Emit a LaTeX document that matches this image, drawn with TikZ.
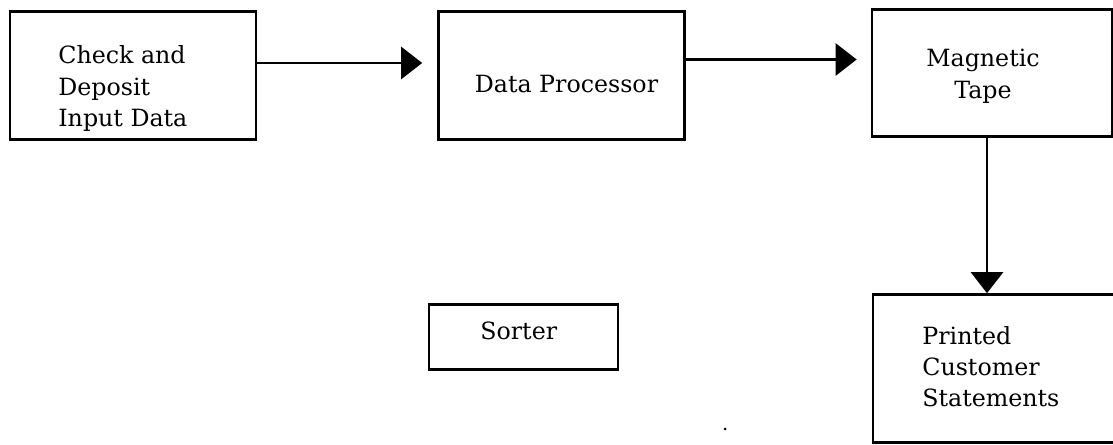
\documentclass[tikz,border=0pt]{standalone}
\usepackage{fontspec}
\setmainfont{DejaVu Serif}
\usetikzlibrary{arrows.meta, positioning}
\tikzstyle{process} = [rectangle, minimum width=4.92cm, minimum height=2.55cm, draw=black, line width=1.5pt]
\tikzstyle{smallprocess} = [rectangle, minimum width=3.78cm, minimum height=1.3cm, draw=black, line width=1.5pt]
\tikzstyle{boxtext} = [inner sep=0pt, font=\fontsize{13.5}{17.8}\selectfont]
\tikzstyle{flow} = [-{Triangle[length=0.42cm, width=0.64cm]}, line width=1.5pt]
\begin{document}
\begin{tikzpicture}[node distance=8.6cm]
\useasboundingbox (0,0) rectangle (22.26,-8.9);
\node (input) [process] at (2.66,-1.51) {};
\node (proc) [process, right of=input, xshift=-0.03cm] {};
\node (tape) [process, right of=proc, minimum width=4.8cm, xshift=0.01cm, yshift=0.05cm] {};
\node (sorter) [smallprocess, below of=proc, xshift=-0.76cm, yshift=3.37cm] {};
\node (stmt) [process, below of=tape, minimum width=5.04cm, minimum height=2.96cm, xshift=0.14cm, yshift=2.69cm] {};
\node (inputtxt) [boxtext, align=left, anchor=north west] at ([xshift=-1.5cm, yshift=0.6cm]input.center) {Check and\\Deposit\\Input Data};
\node (proctxt) [boxtext, anchor=base west] at ([xshift=-1.74cm, yshift=-0.34cm]proc.center) {Data Processor};
\node (tapetxt) [boxtext, align=center, anchor=north] at ([xshift=-0.18cm, yshift=0.48cm]tape.center) {Magnetic\\Tape};
\node (stmttxt) [boxtext, align=left, anchor=north west] at ([xshift=-1.54cm, yshift=0.85cm]stmt.center) {Printed\\Customer\\Statements};
\node (sortertxt) [boxtext, anchor=base west] at ([xshift=-0.87cm, yshift=-0.05cm]sorter.center) {Sorter};
\draw[flow, shorten >=0.3cm] ([yshift=0.25cm]input.east) -- ([yshift=0.25cm]proc.west);
\draw[flow, shorten >=0.28cm] ([yshift=0.32cm]proc.east) -- ([yshift=0.27cm]tape.west);
\draw[flow] ([xshift=-0.1cm]tape.south) -- ([xshift=-0.1cm]tape.south |- stmt.north);
\fill (14.5,-8.58) circle (0.03cm);
\end{tikzpicture}
\end{document}
